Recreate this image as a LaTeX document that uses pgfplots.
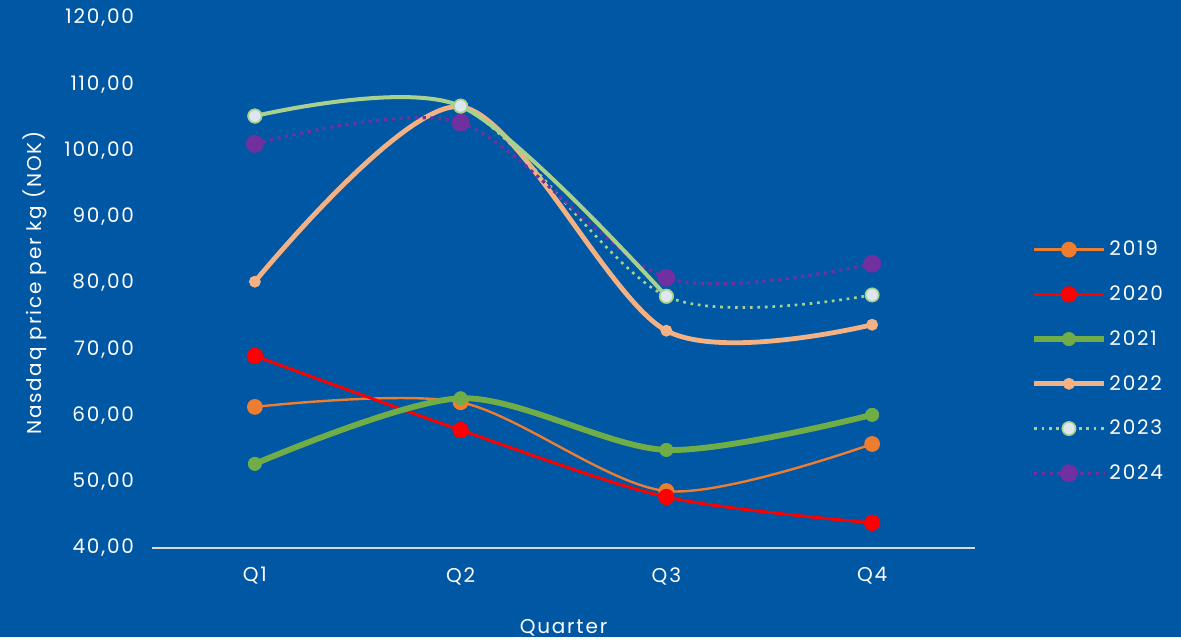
\documentclass[border=0pt]{standalone}
\usepackage{fontspec}
\setmainfont{Poppins}[LetterSpace=9]
\usepackage{pgfplots}
\pgfplotsset{compat=1.18}

\definecolor{bg}{RGB}{0,87,164}
\definecolor{c19}{RGB}{237,125,49}
\definecolor{c20}{RGB}{255,0,0}
\definecolor{c21}{RGB}{112,173,71}
\definecolor{c22}{RGB}{244,177,131}
\definecolor{c23}{RGB}{169,209,142}
\definecolor{c23fill}{RGB}{222,230,240}
\definecolor{c24}{RGB}{112,48,160}
\definecolor{axisgray}{RGB}{217,217,217}

\begin{document}
\begin{tikzpicture}
\fill[bg] (0pt,0pt) rectangle (885.75pt,477.75pt);
\begin{axis}[
  at={(114pt,66.75pt)}, anchor=south west,
  width=617.25pt, height=397.5pt, scale only axis,
  xmin=0.5, xmax=4.5, ymin=40, ymax=120,
  xtick={1,2,3,4}, xticklabels={Q1,Q2,Q3,Q4},
  ytick={40,50,...,120},
  separate axis lines,
  axis x line*=bottom, axis y line*=left,
  x axis line style={draw=axisgray, line width=1.2pt, -},
  y axis line style={draw=none},
  tick style={draw=none},
  ticklabel style={white, font=\fontsize{15}{17}\selectfont},
  yticklabel style={xshift=-10pt},
  xticklabel style={yshift=-11pt},
  /pgf/number format/.cd, fixed, fixed zerofill, precision=2, use comma, assume math mode=true,
  /pgfplots/.cd,
  xlabel={Quarter}, ylabel={Nasdaq price per kg (NOK)},
  label style={white, font=\fontsize{15}{17}\selectfont},
  x label style={at={(axis description cs:0.5,-0.15)}, anchor=center},
  y label style={at={(axis description cs:-0.142,0.5)}, anchor=center},
  clip=false,
  legend style={at={(rel axis cs:1.063,0.352)}, anchor=west, draw=none, fill=none,
    text=white, font=\fontsize{15}{17}\selectfont, row sep=17pt},
  legend cell align=left,
  legend image code/.code={
    \draw[mark repeat=2,mark phase=2,#1] plot coordinates {(0cm,0cm) (0.92cm,0cm) (1.84cm,0cm)};
  },
]
% 2019
\addplot[c19, line width=1.8pt, smooth, mark=*, mark size=5pt, mark options={solid, fill=c19, draw=c19}]
  coordinates {(1,61.3) (2,62.0) (3,48.6) (4,55.7)};
\addlegendentry{2019}
% 2020
\addplot[c20, line width=2.2pt, smooth, mark=*, mark size=5pt, mark options={solid, fill=c20, draw=c20}]
  coordinates {(1,69.0) (2,57.8) (3,47.7) (4,43.8)};
\addlegendentry{2020}
% 2021
\addplot[c21, line width=4.4pt, smooth, mark=*, mark size=5pt, mark options={solid, line width=0.5pt, fill=c21, draw=c21}]
  coordinates {(1,52.7) (2,62.6) (3,54.8) (4,60.1)};
\addlegendentry{2021}
% 2022
\addplot[c22, line width=3.6pt, smooth, mark=*, mark size=4.2pt, mark options={solid, line width=0.5pt, fill=c22, draw=c22}]
  coordinates {(1,80.2) (2,106.6) (3,72.8) (4,73.7)};
\addlegendentry{2022}
% 2023
\addplot[c23, line width=2pt, dash pattern=on 2pt off 3.6pt, smooth, mark=*, mark size=5pt, mark options={solid, line width=1.2pt, fill=c23fill, draw=c23}]
  coordinates {(1,105.2) (2,106.7) (3,78.0) (4,78.2)};
\addlegendentry{2023}
% 2024
\addplot[c24, line width=2.4pt, dash pattern=on 2.4pt off 3.4pt, smooth, mark=*, mark size=5.5pt, mark options={solid, fill=c24, draw=c24}]
  coordinates {(1,101.0) (2,104.2) (3,80.8) (4,82.9)};
\addlegendentry{2024}
% 2023 solid part Q1-Q3
\addplot[c23, line width=3pt, smooth, forget plot, mark=*, mark size=5pt, mark options={solid, line width=1.2pt, fill=c23fill, draw=c23}]
  coordinates {(1,105.2) (2,106.7) (3,78.0)};
\end{axis}
\end{tikzpicture}
\end{document}
